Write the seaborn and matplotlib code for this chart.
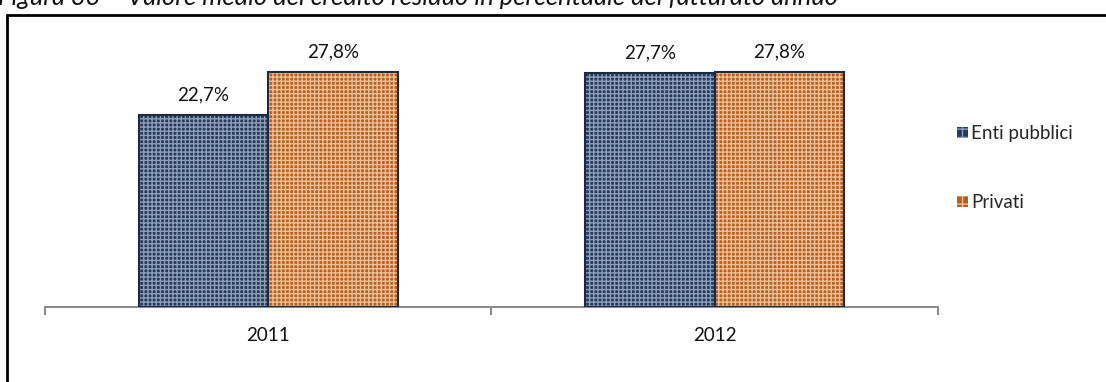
import matplotlib
matplotlib.use("Agg")
import matplotlib.pyplot as plt
import seaborn as sns
import pandas as pd
from matplotlib.lines import Line2D
from matplotlib.patches import Patch

# === Dati ===
anni = ["2011", "2012"]
serie = ["Enti pubblici", "Privati"]
enti_pubblici = [22.7, 27.7]
privati = [27.8, 27.8]

sns.set_theme(style="white")
plt.rcParams.update({
    'font.family': ['Lato', 'DejaVu Sans'],
    'font.size': 13,
    'hatch.linewidth': 1.0,
})

df = pd.DataFrame({
    'anno': anni * 2,
    'serie': [serie[0]] * 2 + [serie[1]] * 2,
    'valore': enti_pubblici + privati,
})

face = {serie[0]: '#263a5c', serie[1]: '#b9601f'}
hatch_col = {serie[0]: '#8d9eb8', serie[1]: '#eabf98'}

fig = plt.figure(figsize=(11.06, 3.82), dpi=100)
ax = fig.add_axes([0.0407, 0.196, 0.8073, 0.664])

sns.barplot(data=df, x='anno', y='valore', hue='serie', palette=face,
            width=0.58, ax=ax, legend=False, gap=0)

# pattern a griglia: colore del tratteggio dall'edgecolor, poi bordo sopra
bars = list(ax.patches)
for i, p in enumerate(bars):
    s = serie[i // len(anni)]
    p.set_facecolor(face[s])
    p.set_edgecolor(hatch_col[s])
    p.set_hatch('++++')
    p.set_linewidth(0)
    ax.add_patch(plt.Rectangle(p.get_xy(), p.get_width(), p.get_height(),
                               fill=False, edgecolor='#1c2b45', linewidth=1.5, zorder=3))
    v = p.get_height()
    ax.text(p.get_x() + p.get_width() / 2, v + 1.4, f"{v:.1f}%".replace('.', ','),
            ha='center', va='bottom', fontsize=13.5, color='#111111', clip_on=False)

ax.set_ylim(0, 30)
ax.set_xlim(-0.5, 1.5)
ax.set_xlabel("")
ax.set_ylabel("")
ax.set_yticks([])
for sp in ['top', 'right', 'left']:
    ax.spines[sp].set_visible(False)
ax.spines['bottom'].set_color('#8c8c8c')
ax.spines['bottom'].set_linewidth(1.5)
ax.set_xticks([0, 1])
ax.set_xticklabels(anni, fontsize=13.5, color='#111111')
ax.set_xticks([-0.5, 0.5, 1.5], minor=True)
ax.tick_params(axis='x', which='major', length=0, pad=14)
ax.tick_params(axis='x', which='minor', length=6, width=1.5, color='#8c8c8c',
               direction='out', bottom=True)

handles = [Patch(facecolor=face[s], edgecolor=hatch_col[s], hatch='++', linewidth=0) for s in serie]
fig.legend(handles, serie, loc='center left', bbox_to_anchor=(0.857, 0.56),
           frameon=False, fontsize=13.5, handlelength=0.55, handleheight=0.55,
           handletextpad=0.2, labelspacing=2.8, borderpad=0)

# cornice e titolo tagliato
fig.add_artist(Line2D([0.0065, 0.0065], [0, 0.961], color='black', linewidth=2))
fig.add_artist(Line2D([0.0065, 1.0], [0.961, 0.961], color='black', linewidth=2))
fig.text(-0.002, 1 - 5 / 382, "Figura 33 \u2013 Valore medio del credito residuo in percentuale del fatturato annuo",
         ha='left', va='baseline', fontsize=18.4, style='italic', color='#111111')

fig.savefig("out.png", dpi=100)
